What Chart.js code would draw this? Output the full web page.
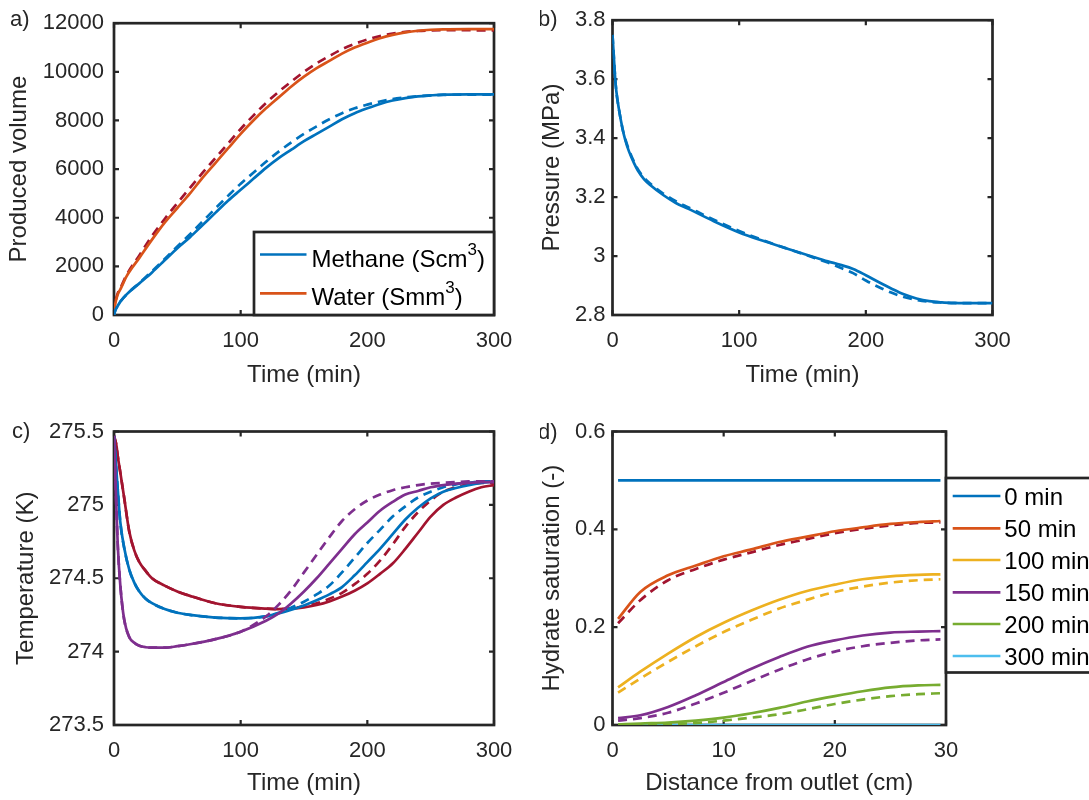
<!DOCTYPE html>
<html>
<head>
<meta charset="utf-8">
<script src="https://cdn.jsdelivr.net/npm/chart.js@4.4.1/dist/chart.umd.min.js"></script>
<style>
  body { margin: 0; background: #fff; overflow: hidden; }
  canvas { position: absolute; }
</style>
</head>
<body>
<canvas id="panelA" width="540" height="400" style="left:0;top:0"></canvas>
<canvas id="panelB" width="549" height="400" style="left:540px;top:0"></canvas>
<canvas id="panelC" width="540" height="400" style="left:0;top:400px"></canvas>
<canvas id="panelD" width="549" height="400" style="left:540px;top:400px"></canvas>
<script>
// ---------------- DATA ----------------

// a) produced volume
const timeA = [0, 1, 3, 5, 10, 20, 30, 40, 50, 60, 70, 80, 90, 100, 110, 120, 130, 140, 150, 160, 170, 180, 190, 200, 210, 220, 230, 240, 250, 260, 280, 300];
const methaneSolid = [0, 180, 380, 550, 850, 1300, 1750, 2250, 2750, 3200, 3700, 4200, 4700, 5150, 5600, 6050, 6450, 6800, 7150, 7450, 7750, 8050, 8300, 8500, 8680, 8820, 8920, 8990, 9030, 9060, 9070, 9070];
const methaneDashed = [0, 180, 380, 550, 850, 1320, 1800, 2300, 2820, 3320, 3850, 4380, 4900, 5400, 5850, 6300, 6720, 7100, 7450, 7760, 8050, 8300, 8500, 8650, 8780, 8880, 8950, 9000, 9030, 9050, 9060, 9060];
const waterSolid = [0, 450, 850, 1050, 1600, 2350, 3100, 3800, 4400, 5000, 5650, 6250, 6850, 7450, 8000, 8500, 8950, 9400, 9800, 10150, 10450, 10750, 11000, 11200, 11380, 11520, 11620, 11690, 11730, 11750, 11760, 11760];
const waterDashed = [0, 480, 900, 1100, 1650, 2450, 3250, 3950, 4600, 5230, 5850, 6450, 7050, 7650, 8200, 8720, 9180, 9600, 10000, 10350, 10650, 10930, 11150, 11330, 11470, 11570, 11640, 11680, 11700, 11710, 11710, 11700];
const volumeTicks = [0, 2000, 4000, 6000, 8000, 10000, 12000];

// b) pressure
const timeB = [0, 1, 2, 3, 5, 8, 10, 13, 17, 20, 25, 30, 40, 50, 60, 80, 100, 120, 140, 160, 170, 180, 190, 200, 210, 220, 230, 240, 250, 260, 270, 280, 300];
const pressureSolid = [3.75, 3.68, 3.61, 3.56, 3.50, 3.43, 3.395, 3.355, 3.315, 3.29, 3.26, 3.24, 3.207, 3.18, 3.16, 3.118, 3.08, 3.05, 3.022, 2.995, 2.982, 2.97, 2.956, 2.935, 2.912, 2.89, 2.87, 2.856, 2.847, 2.843, 2.841, 2.84, 2.84];
const pressureDashed = [3.75, 3.68, 3.61, 3.56, 3.50, 3.43, 3.398, 3.36, 3.32, 3.295, 3.265, 3.245, 3.212, 3.186, 3.165, 3.123, 3.085, 3.052, 3.022, 2.993, 2.978, 2.96, 2.942, 2.917, 2.895, 2.876, 2.861, 2.851, 2.845, 2.842, 2.84, 2.84, 2.84];
const pressureTicks = [2.8, 3, 3.2, 3.4, 3.6, 3.8];

// c) temperature
const timeC = [0, 1, 2, 3, 5, 8, 12, 16, 20, 25, 30, 40, 50, 60, 80, 100, 120, 130, 140, 150, 160, 170, 180, 190, 200, 210, 220, 230, 240, 250, 260, 270, 280, 290, 300];
const tempRedSolid = [275.47, 275.44, 275.40, 275.33, 275.22, 275.05, 274.82, 274.69, 274.61, 274.55, 274.50, 274.45, 274.41, 274.38, 274.33, 274.305, 274.293, 274.29, 274.293, 274.302, 274.318, 274.342, 274.375, 274.415, 274.465, 274.53, 274.60, 274.70, 274.81, 274.92, 275.00, 275.05, 275.09, 275.12, 275.135];
const tempRedDashed = [275.47, 275.44, 275.40, 275.33, 275.22, 275.05, 274.82, 274.69, 274.61, 274.55, 274.50, 274.45, 274.41, 274.38, 274.33, 274.305, 274.293, 274.29, 274.293, 274.31, 274.33, 274.36, 274.40, 274.46, 274.53, 274.62, 274.73, 274.85, 274.95, 275.03, 275.09, 275.12, 275.14, 275.15, 275.15];
const tempBlueSolid = [275.47, 275.35, 275.22, 275.10, 274.88, 274.71, 274.56, 274.47, 274.41, 274.36, 274.33, 274.29, 274.265, 274.25, 274.232, 274.227, 274.24, 274.26, 274.285, 274.315, 274.35, 274.39, 274.44, 274.52, 274.61, 274.70, 274.80, 274.90, 274.98, 275.045, 275.09, 275.115, 275.135, 275.15, 275.16];
const tempBlueDashed = [275.47, 275.35, 275.22, 275.10, 274.88, 274.71, 274.56, 274.47, 274.41, 274.36, 274.33, 274.29, 274.265, 274.25, 274.232, 274.227, 274.24, 274.265, 274.30, 274.34, 274.39, 274.45, 274.54, 274.64, 274.74, 274.83, 274.92, 274.99, 275.05, 275.09, 275.12, 275.14, 275.15, 275.16, 275.16];
const tempPurpleSolid = [275.47, 275.20, 274.95, 274.72, 274.45, 274.22, 274.10, 274.06, 274.04, 274.03, 274.027, 274.027, 274.037, 274.05, 274.085, 274.136, 274.21, 274.26, 274.33, 274.41, 274.50, 274.60, 274.70, 274.80, 274.88, 274.96, 275.02, 275.07, 275.095, 275.12, 275.135, 275.145, 275.15, 275.155, 275.155];
const tempPurpleDashed = [275.47, 275.20, 274.95, 274.72, 274.45, 274.22, 274.10, 274.06, 274.04, 274.03, 274.027, 274.027, 274.037, 274.05, 274.085, 274.136, 274.24, 274.32, 274.42, 274.54, 274.66, 274.78, 274.89, 274.97, 275.03, 275.07, 275.10, 275.12, 275.135, 275.145, 275.15, 275.155, 275.16, 275.16, 275.16];
const tempTicks = [273.5, 274, 274.5, 275, 275.5];

// d) hydrate saturation along the core
const distance = [0.5, 2.5, 5, 7.5, 10, 12.5, 15, 17.5, 20, 22.5, 25, 27.5, 29.5];
const sat0 = [0.5, 0.5, 0.5, 0.5, 0.5, 0.5, 0.5, 0.5, 0.5, 0.5, 0.5, 0.5, 0.5];
const sat50 = [0.217, 0.272, 0.306, 0.326, 0.345, 0.359, 0.374, 0.385, 0.396, 0.404, 0.411, 0.415, 0.417];
const sat50Dashed = [0.208, 0.255, 0.296, 0.319, 0.338, 0.353, 0.368, 0.380, 0.392, 0.401, 0.408, 0.413, 0.414];
const sat100 = [0.077, 0.109, 0.146, 0.180, 0.209, 0.234, 0.256, 0.274, 0.287, 0.298, 0.304, 0.307, 0.308];
const sat100Dashed = [0.066, 0.095, 0.129, 0.161, 0.190, 0.215, 0.238, 0.256, 0.272, 0.283, 0.291, 0.296, 0.298];
const sat150 = [0.014, 0.020, 0.037, 0.061, 0.088, 0.115, 0.139, 0.160, 0.173, 0.183, 0.189, 0.191, 0.192];
const sat150Dashed = [0.009, 0.014, 0.025, 0.044, 0.066, 0.090, 0.113, 0.134, 0.150, 0.161, 0.168, 0.173, 0.175];
const sat200 = [0.001, 0.003, 0.005, 0.009, 0.015, 0.024, 0.035, 0.048, 0.059, 0.069, 0.077, 0.081, 0.082];
const sat200Dashed = [0, 0.001, 0.002, 0.004, 0.009, 0.015, 0.022, 0.032, 0.043, 0.052, 0.059, 0.063, 0.065];
const sat300 = [0, 0, 0, 0, 0, 0, 0, 0, 0, 0, 0, 0, 0];
const satTicks = [0, 0.2, 0.4, 0.6];

const timeTicks = [0, 100, 200, 300];
const distanceTicks = [0, 10, 20, 30];

// ---------------- STYLE ----------------

const FONT = "'Liberation Sans', Arial, sans-serif";
const INK = "#262626";
const BLUE = "#0072BD", ORANGE = "#D95319", YELLOW = "#EDB120", PURPLE = "#7E2F8E",
      GREEN = "#77AC30", CYAN = "#4DBEEE", RED = "#A2142F";
const LW = 2.7;

function series(label, xs, ys, color, dashed) {
    return {
        label: label,
        data: xs.map((x, i) => ({ x: x, y: ys[i] })),
        borderColor: color,
        borderWidth: LW,
        borderDash: dashed ? [9, 6] : [],
        pointRadius: 0,
        fill: false,
        cubicInterpolationMode: "monotone",
        inLegend: !!label
    };
}

function fmt(v) {
    return String(+Number(v).toFixed(2));
}

// draws "Scm^3" style text with a raised small digit
function drawRich(ctx, text, x, y) {
    const parts = text.split(/\^(\w)/);
    parts.forEach((p, i) => {
        if (i % 2 === 1) {
            ctx.font = "17px " + FONT;
            ctx.fillText(p, x, y - 10);
        } else {
            ctx.font = "24px " + FONT;
            ctx.fillText(p, x, y);
        }
        x += ctx.measureText(p).width;
    });
}

// MATLAB-like box, inside ticks, panel letter and legend
const boxPlugin = {
    id: "matlabBox",
    beforeDatasetsDraw(chart) {
        const { ctx, chartArea: ca, scales } = chart;
        ctx.save();
        ctx.strokeStyle = INK;
        ctx.lineWidth = 2.2;
        const tl = 5;
        ctx.beginPath();
        scales.x.ticks.forEach(t => {
            const x = scales.x.getPixelForValue(t.value);
            ctx.moveTo(x, ca.bottom); ctx.lineTo(x, ca.bottom - tl);
            ctx.moveTo(x, ca.top); ctx.lineTo(x, ca.top + tl);
        });
        scales.y.ticks.forEach(t => {
            const y = scales.y.getPixelForValue(t.value);
            ctx.moveTo(ca.left, y); ctx.lineTo(ca.left + tl, y);
            ctx.moveTo(ca.right, y); ctx.lineTo(ca.right - tl, y);
        });
        ctx.stroke();
        ctx.lineWidth = LW;
        ctx.strokeRect(ca.left, ca.top, ca.right - ca.left, ca.bottom - ca.top);
        ctx.restore();
    },
    afterDraw(chart, args, opts) {
        const ctx = chart.ctx;
        ctx.save();
        ctx.fillStyle = INK;
        ctx.font = "22px " + FONT;
        ctx.textBaseline = "middle";
        ctx.textAlign = "left";
        ctx.fillText(opts.letter, opts.letterX, opts.letterY);

        const lg = opts.legend;
        if (lg) {
            ctx.fillStyle = "#fff";
            ctx.fillRect(lg.x, lg.y, lg.w, lg.h);
            ctx.strokeStyle = INK;
            ctx.lineWidth = LW;
            ctx.strokeRect(lg.x, lg.y, lg.w, lg.h);
            const items = chart.data.datasets.filter(d => d.inLegend);
            items.forEach((d, i) => {
                const y = lg.rows[i];
                ctx.strokeStyle = d.borderColor;
                ctx.lineWidth = LW;
                ctx.beginPath();
                ctx.moveTo(lg.lineX, y);
                ctx.lineTo(lg.lineX + lg.lineLen, y);
                ctx.stroke();
                ctx.fillStyle = "#000";
                drawRich(ctx, d.label, lg.textX, y + lg.textShift);
            });
        }
        ctx.restore();
    }
};

function makePanel(id, cfg) {
    const canvas = document.getElementById(id);
    const W = canvas.width, H = canvas.height;
    const a = cfg.area;
    const tickFont = { family: FONT, size: 22 };
    const titleFont = { family: FONT, size: 24, lineHeight: 1 };
    return new Chart(canvas, {
        type: "line",
        data: { datasets: cfg.datasets },
        options: {
            responsive: false,
            animation: false,
            events: [],
            layout: { padding: { left: 0, top: a.top, right: W - a.right, bottom: 0 } },
            plugins: {
                legend: { display: false },
                tooltip: { enabled: false },
                matlabBox: cfg.box
            },
            scales: {
                x: {
                    type: "linear",
                    min: cfg.xTicks[0],
                    max: cfg.xTicks[cfg.xTicks.length - 1],
                    afterBuildTicks: s => { s.ticks = cfg.xTicks.map(v => ({ value: v })); },
                    afterFit: s => { s.height = H - a.bottom; },
                    grid: { display: false, drawTicks: false },
                    border: { display: false },
                    ticks: { font: tickFont, color: INK, padding: 13, maxRotation: 0, autoSkip: false, callback: fmt },
                    title: { display: true, text: cfg.xTitle, font: titleFont, color: INK, padding: { top: 0, bottom: cfg.xTitlePad } }
                },
                y: {
                    type: "linear",
                    min: cfg.yTicks[0],
                    max: cfg.yTicks[cfg.yTicks.length - 1],
                    afterBuildTicks: s => { s.ticks = cfg.yTicks.map(v => ({ value: v })); },
                    afterFit: s => { s.width = a.left; },
                    grid: { display: false, drawTicks: false },
                    border: { display: false },
                    ticks: { font: tickFont, color: INK, padding: cfg.yTickPad, autoSkip: false, callback: fmt },
                    title: { display: true, text: cfg.yTitle, font: titleFont, color: INK, padding: { top: cfg.yTitlePad, bottom: 0 } }
                }
            }
        },
        plugins: [boxPlugin]
    });
}

// ---------------- PANELS ----------------

makePanel("panelA", {
    area: { left: 114, top: 20, right: 494, bottom: 315 },
    xTicks: timeTicks, yTicks: volumeTicks,
    xTitle: "Time (min)", yTitle: "Produced volume",
    xTitlePad: 13, yTitlePad: 7, yTickPad: 10,
    datasets: [
        series("Methane (Scm^3)", timeA, methaneSolid, BLUE, false),
        series("", timeA, methaneDashed, BLUE, true),
        series("Water (Smm^3)", timeA, waterSolid, ORANGE, false),
        series("", timeA, waterDashed, RED, true)
    ],
    box: {
        letter: "a)", letterX: 10, letterY: 20,
        legend: { x: 254, y: 232, w: 240, h: 83, rows: [254.5, 293.3], lineX: 260, lineLen: 46.5, textX: 311.5, textShift: 5.5 }
    }
});

makePanel("panelB", {
    area: { left: 72.5, top: 20, right: 452.5, bottom: 315 },
    xTicks: timeTicks, yTicks: pressureTicks,
    xTitle: "Time (min)", yTitle: "Pressure (MPa)",
    xTitlePad: 13, yTitlePad: 0, yTickPad: 7,
    datasets: [
        series("", timeB, pressureSolid, BLUE, false),
        series("", timeB, pressureDashed, BLUE, true)
    ],
    box: { letter: "b)", letterX: -2, letterY: 20 }
});

makePanel("panelC", {
    area: { left: 114, top: 31.5, right: 494, bottom: 325 },
    xTicks: timeTicks, yTicks: tempTicks,
    xTitle: "Time (min)", yTitle: "Temperature (K)",
    xTitlePad: 5, yTitlePad: 14, yTickPad: 10,
    datasets: [
        series("", timeC, tempPurpleSolid, PURPLE, false),
        series("", timeC, tempPurpleDashed, PURPLE, true),
        series("", timeC, tempBlueSolid, BLUE, false),
        series("", timeC, tempBlueDashed, BLUE, true),
        series("", timeC, tempRedSolid, RED, false),
        series("", timeC, tempRedDashed, RED, true)
    ],
    box: { letter: "c)", letterX: 12, letterY: 32 }
});

makePanel("panelD", {
    area: { left: 72.5, top: 31.5, right: 406, bottom: 325 },
    xTicks: distanceTicks, yTicks: satTicks,
    xTitle: "Distance from outlet (cm)", yTitle: "Hydrate saturation (-)",
    xTitlePad: 5, yTitlePad: 0, yTickPad: 7,
    datasets: [
        series("0 min", distance, sat0, BLUE, false),
        series("50 min", distance, sat50, ORANGE, false),
        series("", distance, sat50Dashed, RED, true),
        series("100 min", distance, sat100, YELLOW, false),
        series("", distance, sat100Dashed, YELLOW, true),
        series("150 min", distance, sat150, PURPLE, false),
        series("", distance, sat150Dashed, PURPLE, true),
        series("200 min", distance, sat200, GREEN, false),
        series("", distance, sat200Dashed, GREEN, true),
        series("300 min", distance, sat300, CYAN, false)
    ],
    box: {
        letter: "d)", letterX: -2, letterY: 33,
        legend: { x: 406, y: 78, w: 200, h: 194.5, rows: [96, 128.3, 160, 192.3, 224, 256], lineX: 412.7, lineLen: 47.7, textX: 464.3, textShift: 2.5 }
    }
});
</script>
</body>
</html>
